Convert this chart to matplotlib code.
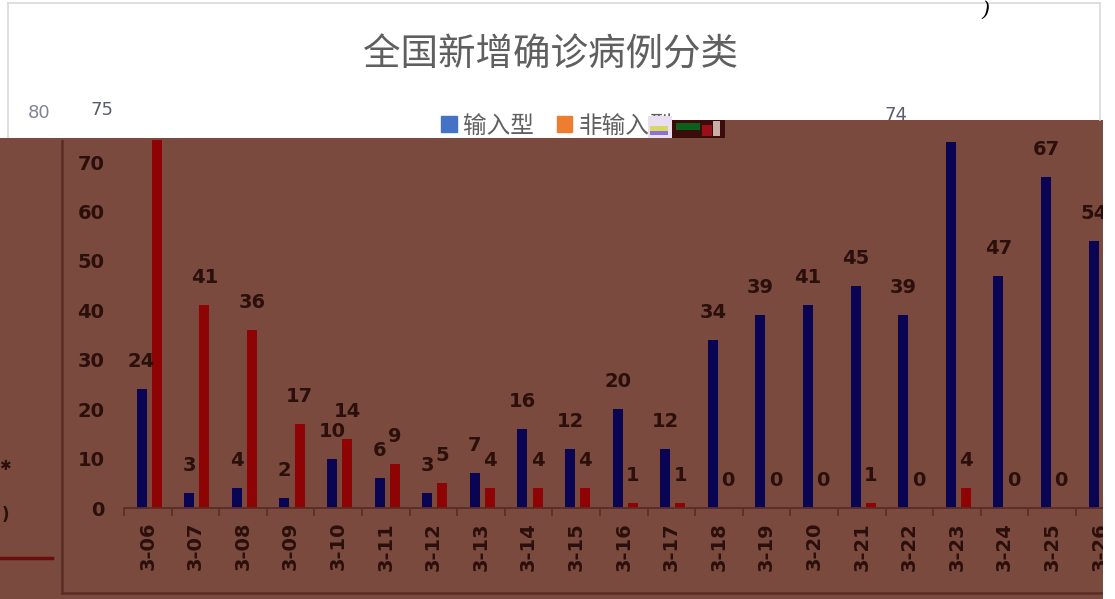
import matplotlib
matplotlib.use("Agg")
import matplotlib.pyplot as plt
import numpy as np
from matplotlib.patches import Rectangle, Patch
from matplotlib.lines import Line2D
from matplotlib.transforms import offset_copy

plt.rcParams['font.family'] = ['Noto Sans CJK SC', 'DejaVu Sans']

# data
dates = ["3-06", "3-07", "3-08", "3-09", "3-10", "3-11", "3-12", "3-13", "3-14", "3-15", "3-16",
         "3-17", "3-18", "3-19", "3-20", "3-21", "3-22", "3-23", "3-24", "3-25", "3-26"]
imported = [24, 3, 4, 2, 10, 6, 3, 7, 16, 12, 20, 12, 34, 39, 41, 45, 39, 74, 47, 67, 54]
local = [75, 41, 36, 17, 14, 9, 5, 4, 4, 4, 1, 1, 0, 0, 0, 1, 0, 4, 0, 0, 1]
title = "全国新增确诊病例分类"
legend_names = ["输入型", "非输入型"]

W, H = 1115, 599
BROWN = "#7b4a3f"
DARK = "#2a0f0a"
LINE = "#5a2c24"
GRAY = "#5f5f5f"


def fx(x):
    return x / W


def fy(y):
    return 1 - y / H


def rect(x0, y0, x1, y1, color, z):
    # pixel box (top-left origin) -> figure patch
    r = Rectangle((fx(x0), fy(y1)), fx(x1) - fx(x0), fy(y0) - fy(y1),
                  transform=fig.transFigure, facecolor=color, edgecolor="none", zorder=z)
    fig.add_artist(r)
    return r


fig = plt.figure(figsize=(11.15, 5.99), dpi=100)
fig.patch.set_facecolor("white")

# darkened background of the lower part
rect(0, 120, 1103, H, BROWN, -2)

ax = fig.add_axes([fx(124), fy(508), fx(1123.6) - fx(124), fy(112.6) - fy(508)])
ax.set_facecolor("none")
x = np.arange(len(dates))
w = 0.21
b1 = ax.bar(x - 0.13, imported, width=w, color="#0a0552", zorder=2)
b2 = ax.bar(x + 0.19, local, width=w, color="#8e0303", zorder=2)
for bars, vals in [(b1, imported), (b2, local)]:
    for r_, v in zip(bars, vals):
        ax.annotate(str(v), (r_.get_x() + r_.get_width() / 2, v), xytext=(0, 18),
                    textcoords="offset pixels", ha="center", va="bottom",
                    fontsize=14, fontweight="bold", color=DARK, family="DejaVu Sans")

ax.set_xlim(-0.5, len(dates) - 0.5)
ax.set_ylim(0, 80)
ax.set_yticks(np.arange(0, 80, 10))
ax.set_xticks(x)
ax.set_xticklabels(dates, rotation=90, family="DejaVu Sans", fontweight="bold")
ax.set_xticks(np.arange(-0.5, len(dates), 1), minor=True)
ax.tick_params(axis="x", which="major", length=0, pad=10, labelsize=14, labelcolor=DARK)
ax.tick_params(axis="x", which="minor", length=6, width=1.2, color=LINE)
ax.tick_params(axis="y", length=0, pad=14, labelsize=14, labelcolor=DARK)
for lab in ax.get_yticklabels():
    lab.set_family("DejaVu Sans")
    lab.set_fontweight("bold")
for s in ["left", "right", "top"]:
    ax.spines[s].set_visible(False)
ax.spines["bottom"].set_color(LINE)
ax.spines["bottom"].set_linewidth(1.3)

# inner frame lines of the dark part
fig.add_artist(Line2D([fx(62), fx(62)], [fy(138), fy(593)], transform=fig.transFigure,
                      color=LINE, lw=1.8, zorder=-1))
fig.add_artist(Line2D([fx(62), fx(1103)], [fy(593), fy(593)], transform=fig.transFigure,
                      color=LINE, lw=1.8, zorder=-1))
# remnants on the left edge
fig.text(fx(5), fy(466), "✱", fontsize=10, color=DARK, ha="center", va="center", zorder=3)
fig.text(fx(5), fy(515), ")", fontsize=12, color=DARK, ha="center", va="center",
         family="DejaVu Sans", fontweight="bold", zorder=3)
fig.add_artist(Line2D([0, fx(52)], [fy(558), fy(558)], transform=fig.transFigure,
                      color="#6a0d0d", lw=2.5, zorder=3))

# white upper part and right strip
rect(0, 0, W, 120, "white", 5)
rect(0, 120, 670, 138, "white", 5)
rect(1103, 120, W, H, "white", 5)

# light outer border of the original chart
for xs, ys in [([8, 1100], [3, 3]), ([8, 8], [3, 138]), ([1100, 1100], [3, 120])]:
    fig.add_artist(Line2D([fx(v) for v in xs], [fy(v) for v in ys], transform=fig.transFigure,
                          color="#d9d9d9", lw=1.2, zorder=6))

fig.text(fx(551), fy(55), title, fontsize=27, color=GRAY, ha="center", va="center", zorder=7)
fig.text(fx(985), fy(1), ")", fontsize=15, color="black", ha="center", va="top",
         family="DejaVu Serif", style="italic", zorder=7)

leg = fig.legend(handles=[Patch(color="#4472C4", label=legend_names[0]),
                          Patch(color="#ED7D31", label=legend_names[1])],
                 loc="center", bbox_to_anchor=(fx(557), fy(126)), ncol=2, frameon=False,
                 fontsize=17, handlelength=0.65, handleheight=0.65, handletextpad=0.25,
                 columnspacing=1.0, labelcolor=GRAY)
leg.set_zorder(7)
# strip the lower edge of the legend as in the picture
rect(0, 138, 670, 140, BROWN, 8)

# glitch block at the end of the legend
rect(648, 116, 672, 138, "#e8e0f0", 8)
rect(650, 126, 668, 131, "#d8d860", 8)
rect(650, 131, 668, 135, "#8a70d8", 8)
rect(672, 120, 725, 138, "#3a0c0a", 8)
rect(676, 123, 700, 130, "#0d5f1c", 8)
rect(702, 125, 712, 136, "#9a1018", 8)
rect(713, 121, 720, 136, "#c8b0a8", 8)

# shifted copy of the chart, visible in the white part
shift = -55
tr_y = offset_copy(ax.get_yaxis_transform(), fig=fig, x=shift - 19, y=0, units="dots")
fig.text(0, 80, "80", transform=tr_y, ha="right", va="center", fontsize=13,
         color="#7d8794", family="DejaVu Sans", zorder=7)
tr_d = offset_copy(ax.transData, fig=fig, x=shift, y=18, units="dots")
for bars, vals in [(b1, imported), (b2, local)]:
    for r_, v in zip(bars, vals):
        if v >= 74:
            fig.text(r_.get_x() + r_.get_width() / 2, v, str(v), transform=tr_d,
                     ha="center", va="bottom", fontsize=13, color="#5a5e6a",
                     family="DejaVu Sans", zorder=7)

fig.savefig("out.png", dpi=100)
